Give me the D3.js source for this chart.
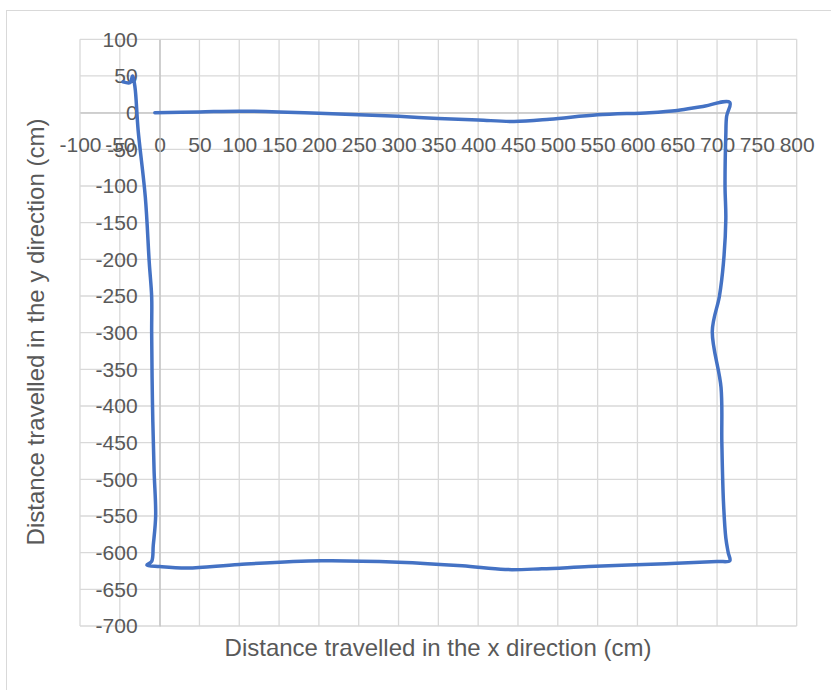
<!DOCTYPE html>
<html>
<head>
<meta charset="utf-8">
<script src="https://cdn.jsdelivr.net/npm/d3@7"></script>
<style>
  html, body { margin: 0; padding: 0; background: #fff; }
  svg { display: block; }
</style>
</head>
<body>
<svg id="chart" width="831" height="690"></svg>
<script>
// Path travelled, in cm: along the top edge, down the right side,
// back along the bottom and up the left side.
const pathX = [
  -6, 50, 100, 150, 200, 250, 300, 350, 400, 445, 490, 550, 615, 650, 680, 716,
  712, 711, 710, 711, 708, 703, 694, 705, 706, 708, 711, 714, 716,
  700, 636, 539, 480, 434, 380, 300, 203, 100, 35, 0, -16,
  -10, -8, -5, -7, -9, -10, -10, -13, -18, -27, -31, -34, -37, -46
];
const pathY = [
  0, 1, 2, 1, -1, -3, -5, -8, -10, -12, -9, -3, 0, 3, 8, 14,
  -5, -30, -100, -145, -205, -250, -298, -375, -450, -530, -580, -600, -611,
  -612, -615, -619, -622, -623, -618, -613, -611, -616, -621, -619, -617,
  -612, -590, -550, -487, -396, -300, -251, -205, -115, -24, 35, 50, 41, 42
];

const xTicks = [-100, -50, 0, 50, 100, 150, 200, 250, 300, 350, 400, 450, 500, 550, 600, 650, 700, 750, 800];
const yTicks = [100, 50, 0, -50, -100, -150, -200, -250, -300, -350, -400, -450, -500, -550, -600, -650, -700];

const xTitle = "Distance travelled in the x direction (cm)";
const yTitle = "Distance travelled in the y direction (cm)";

const svg = d3.select("#chart");
const font = "'Liberation Sans', Arial, sans-serif";
const textColor = "#595959";
const gridColor = "#d9d9d9";

// Chart area border
svg.append("rect")
  .attr("x", 6.5).attr("y", 10.5)
  .attr("width", 840).attr("height", 700)
  .attr("fill", "#fff")
  .attr("stroke", gridColor).attr("stroke-width", 1);

const x = d3.scaleLinear().domain([-100, 800]).range([80, 796.7]);
const y = d3.scaleLinear().domain([-700, 100]).range([626, 39.3]);

// Gridlines
const grid = svg.append("g").attr("stroke", gridColor).attr("stroke-width", 1.3);
grid.selectAll("line.v").data(xTicks).join("line")
  .attr("class", "v")
  .attr("x1", d => x(d)).attr("x2", d => x(d))
  .attr("y1", y(-700)).attr("y2", y(100));
grid.selectAll("line.h").data(yTicks).join("line")
  .attr("class", "h")
  .attr("x1", x(-100)).attr("x2", x(800))
  .attr("y1", d => y(d)).attr("y2", d => y(d));

// Axes crossing at the origin
const xAxis = svg.append("g")
  .attr("transform", `translate(0,${y(0)})`)
  .call(d3.axisBottom(x).tickValues(xTicks).tickSize(0).tickSizeOuter(0).tickPadding(24)
    .tickFormat(d => String(d)));
const yAxis = svg.append("g")
  .attr("transform", `translate(${x(0)},0)`)
  .call(d3.axisLeft(y).tickValues(yTicks).tickSize(0).tickSizeOuter(0).tickPadding(22)
    .tickFormat(d => String(d)));

[xAxis, yAxis].forEach(g => {
  g.select(".domain").attr("stroke", "#c4c4c4").attr("stroke-width", 1.3);
  g.selectAll("text")
    .attr("fill", textColor)
    .style("font-family", font)
    .style("font-size", "21px");
});

// Travelled path
const pts = pathX.map((v, i) => [v, pathY[i]]);
const line = d3.line()
  .x(d => x(d[0]))
  .y(d => y(d[1]))
  .curve(d3.curveCatmullRom.alpha(0.5));
svg.append("path")
  .datum(pts)
  .attr("d", line)
  .attr("fill", "none")
  .attr("stroke", "#4472C4")
  .attr("stroke-width", 3.5)
  .attr("stroke-linecap", "round")
  .attr("stroke-linejoin", "round");

// Axis titles
svg.append("text")
  .attr("x", 438).attr("y", 656)
  .attr("text-anchor", "middle")
  .attr("fill", textColor)
  .style("font-family", font)
  .style("font-size", "24px")
  .text(xTitle);
svg.append("text")
  .attr("transform", "translate(44,332) rotate(-90)")
  .attr("text-anchor", "middle")
  .attr("fill", textColor)
  .style("font-family", font)
  .style("font-size", "24px")
  .text(yTitle);
</script>
</body>
</html>
